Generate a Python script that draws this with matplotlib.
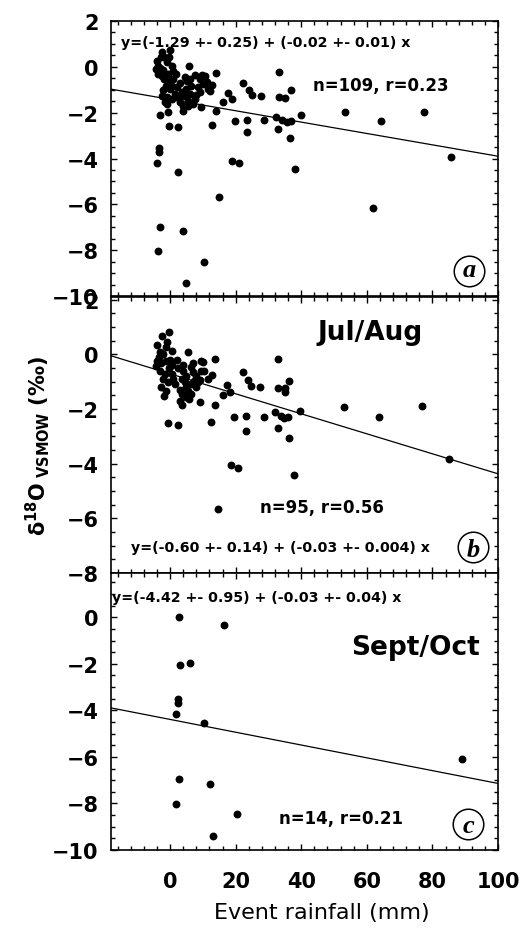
import numpy as np
import matplotlib
matplotlib.use("Agg")
import matplotlib.pyplot as plt
from matplotlib.ticker import MultipleLocator

plt.rcParams['font.family'] = ['DejaVu Sans']
plt.rcParams['mathtext.fontset'] = 'dejavusans'

# ---------------- data ----------------
# panel a: all events
a_x = [5.8, 14.0, 33.2, 4.6, 9.7, 22.2, 24.0, 25.0, 27.6, 36.8, 35.2, 33.2,
       17.6, 16.3, 18.9, 14.0, 9.5, 4.1, -0.5, -3.1, -0.2, 2.5, 12.7, 19.9,
       23.5, 28.8, 32.2, 34.2, 35.7, 36.8, 40.0, 23.5, 33.0, 36.6, -3.4, -3.4,
       -3.9, 18.9, 20.9, 38.1, 2.5, 15.0, 53.4, 64.3, 77.3, 85.6, 61.8, -3.2,
       4.1, -3.8, 10.3, 4.8,
       -0.0, -2.4, -1.8, -4.0, -3.6, -1.0, 0.5, 1.0, -3.8, -2.6, -0.5, -1.8,
       0.0, 1.0, 0.7, 0.0, 2.0, -2.6, -1.0, -1.5, 0.5, 1.5, -1.0, -3.0, -2.0,
       -1.2, -2.2, -0.3,
       5.1, 6.1, 7.6, 9.2, 10.7, 5.0, 6.5, 8.5, 10.0, 4.5, 6.0, 7.5, 5.5, 3.0,
       4.0, 5.5, 7.0, 12.7, 11.7, 11.2, 9.0, 3.5,
       -4.2, 1.8, 2.8, 8.0, -2.8, 3.0, 12.2]
a_y = [0.02, -0.27, -0.24, -0.46, -0.36, -0.71, -1.0, -1.22, -1.26, -1.0, -1.37, -1.30,
       -1.16, -1.52, -1.40, -1.91, -1.77, -1.91, -1.98, -2.10, -2.57, -2.64, -2.52, -2.35,
       -2.32, -2.32, -2.18, -2.32, -2.39, -2.35, -2.10, -2.86, -2.71, -3.12, -3.55, -3.73,
       -4.21, -4.10, -4.21, -4.46, -4.60, -5.67, -1.98, -2.36, -1.96, -3.92, -6.16, -6.97,
       -7.18, -8.05, -8.50, -9.45,
       0.75, 0.63, 0.41, 0.27, 0.05, 0.20, 0.05, -0.17, -0.31, -0.39, -0.31, -0.55,
       -0.60, -0.53, -0.82, -0.97, -0.89, -1.26, -1.33, -1.55, -1.40, -1.19, -1.62, -0.05, -0.15,
       -0.85, -1.00, 0.45,
       -0.60, -0.53, -0.36, -0.53, -0.41, -0.97, -0.82, -0.89, -0.75, -1.26, -1.19, -1.40, -1.48, -1.55,
       -1.69, -1.69, -1.62, -0.80, -0.97, -0.68, -1.10, -1.10,
       -0.10, -0.30, -1.35, -1.25, 0.45, -0.70, -1.05]

# panel b: Jul/Aug
b_x = [5.6, 13.8, 32.9, 4.1, 6.4, 9.4, 10.1, 9.4, 6.9, 7.9, 11.5, 12.7,
       22.2, 23.7, 24.7, 27.4, 36.4, 32.9, 35.1, 35.1, 17.4, 16.0, 18.4,
       3.8, 9.2, 13.8, -0.5, 2.5, 12.5, 19.6, 23.2, 23.2, 28.6, 32.1, 32.9,
       33.9, 34.9, 35.9, 36.2, 39.7, 53.0, 63.7, 76.8, 85.1, 18.6, 20.7, 37.7, 14.7,
       -0.3, -2.3, -4.1, -1.3, 0.75, -4.3, -2.8, -1.3, -0.3, 0.75, -3.5, -2.0, -1.0,
       -3.0, -1.5, 0.5, 1.0, 1.5, -2.8, -1.8, -1.3, -0.5, -2.2, 0.0, -4.0, -3.2,
       3.8, 4.8, 5.8, 6.4, 4.8, 6.4, 7.4, 3.5, 5.0, 4.0, 8.5, 3.0, 5.5, 2.5, 10.5,
       7.0, 3.0, 8.0, 2.0, 9.0, 4.5]
b_y = [0.07, -0.18, -0.17, -0.38, -0.47, -0.23, -0.29, -0.60, -0.66, -0.78, -0.90, -0.75,
       -0.63, -0.94, -1.14, -1.20, -0.96, -1.23, -1.23, -1.39, -1.11, -1.47, -1.39,
       -1.85, -1.73, -1.87, -2.52, -2.58, -2.48, -2.30, -2.26, -2.80, -2.29, -2.12, -2.68,
       -2.24, -2.34, -2.30, -3.07, -2.06, -1.93, -2.30, -1.90, -3.84, -4.03, -4.16, -4.43, -5.66,
       0.83, 0.68, 0.35, 0.26, 0.11, -0.41, -0.30, -0.25, -0.50, -0.40, -0.10, 0.00, 0.45,
       -0.60, -0.70, -0.72, -0.90, -1.08, -1.20, -1.51, -1.33, -1.00, -0.90, -0.20, -0.25, 0.10,
       -1.45, -1.57, -1.63, -1.45, -1.20, -1.08, -0.96, -0.90, -0.80, -0.60, -1.00, -1.30, -1.35, -0.50, -0.60,
       -0.30, -1.70, -1.20, -0.20, -0.95, -1.00]

# panel c: Sept/Oct
c_x = [2.8, 16.4, 2.9, 6.0, 2.5, 2.5, 1.7, 10.4, 89.0, 2.6, 12.2, 1.8, 20.4, 13.1]
c_y = [-0.00, -0.33, -2.07, -1.95, -3.52, -3.70, -4.17, -4.56, -6.11, -6.94, -7.15, -8.03, -8.46, -9.41]

# regression lines (intercept, slope) as drawn
fit_intercept = [-1.42, -0.71, -4.39]
fit_slope = [-0.0248, -0.0366, -0.0275]

eq_texts = ["y=(-1.29 +- 0.25) + (-0.02 +- 0.01) x",
            "y=(-0.60 +- 0.14) + (-0.03 +- 0.004) x",
            "y=(-4.42 +- 0.95) + (-0.03 +- 0.04) x"]
stat_texts = ["n=109, r=0.23", "n=95, r=0.56", "n=14, r=0.21"]
season_texts = [None, "Jul/Aug", "Sept/Oct"]
panel_letters = ["a", "b", "c"]

xlims = (-18, 100)
ylims = [(-10, 2), (-8, 2.1), (-10, 1.9)]
xticks = [0, 20, 40, 60, 80, 100]

# ---------------- layout ----------------
W, H = 520, 929
fig = plt.figure(figsize=(W / 100, H / 100), dpi=100)
fig.patch.set_facecolor('white')

def fx(px):
    return px / W

def fy(py):
    return 1 - py / H

L, R = 111, 498
rows = [(22, 297), (298, 574), (574, 851)]
axes = []
for (t, b) in rows:
    ax = fig.add_axes([fx(L), fy(b), (R - L) / W, (b - t) / H])
    axes.append(ax)

xs_data = [a_x, b_x, c_x]
ys_data = [a_y, b_y, c_y]

for i, ax in enumerate(axes):
    ax.scatter(xs_data[i], ys_data[i], s=32, c='black', linewidths=0, zorder=3)
    ax.set_xlim(*xlims)
    ax.set_ylim(*ylims[i])
    xl = np.array(xlims, dtype=float)
    ax.plot(xl, fit_intercept[i] + fit_slope[i] * xl, color='black', lw=0.9, zorder=2)
    ax.xaxis.set_major_locator(MultipleLocator(20))
    ax.xaxis.set_minor_locator(MultipleLocator(4))
    ax.yaxis.set_major_locator(MultipleLocator(2))
    ax.yaxis.set_minor_locator(MultipleLocator(0.5))
    ax.tick_params(which='both', direction='in', top=True, right=True,
                   width=1.0, colors='black')
    ax.tick_params(which='major', length=4.5)
    ax.tick_params(which='minor', length=3)
    ax.tick_params(axis='y', which='major', labelsize=15, pad=9)
    ax.tick_params(axis='x', which='major', labelsize=15, pad=15)
    for lab in ax.get_yticklabels():
        lab.set_fontweight('bold')
    for sp in ax.spines.values():
        sp.set_linewidth(1.2)
    if i < 2:
        ax.tick_params(axis='x', labelbottom=False)
    else:
        ax.set_xticks(xticks)
        for lab in ax.get_xticklabels():
            lab.set_fontweight('bold')

# texts placed at pixel positions (left x, baseline y)
eq_pos = [(121, 46.7), (131, 551.7), (112, 601.7)]
stat_pos = [(313, 90.7), (260, 512.7), (279, 824.3)]
season_pos = [None, (317, 340), (351, 655)]
for i in range(3):
    fig.text(fx(eq_pos[i][0]), fy(eq_pos[i][1]), eq_texts[i], fontsize=10.2,
             fontweight='bold', ha='left', va='baseline')
    fig.text(fx(stat_pos[i][0]), fy(stat_pos[i][1]), stat_texts[i], fontsize=12,
             fontweight='bold', ha='left', va='baseline')
    if season_texts[i]:
        fig.text(fx(season_pos[i][0]), fy(season_pos[i][1]), season_texts[i],
                 fontsize=19, fontweight='bold', ha='left', va='baseline')

# circled panel letters
circ_pos = [(469, 272), (473, 548), (468, 825)]
letter_base = [276.7, 556.7, 833.3]
for i in range(3):
    cx, cy = circ_pos[i]
    fig.lines.append(plt.Line2D([fx(cx)], [fy(cy)], marker='o', markersize=22,
                                markerfacecolor='none', markeredgecolor='black',
                                markeredgewidth=1.1, transform=fig.transFigure))
    fig.text(fx(cx), fy(letter_base[i]), panel_letters[i], fontsize=19,
             family='Liberation Serif', fontweight='bold', fontstyle='italic',
             ha='center', va='baseline')

# axis labels
fig.text(fx(38), fy(446), r'$\mathbf{\delta^{18}O_{\ VSMOW}}$ (‰)', rotation=90,
         ha='center', va='center', fontsize=15, fontweight='bold')
fig.text(fx(322), fy(913), 'Event rainfall (mm)', ha='center', va='center',
         fontsize=16)

fig.savefig('out.png', dpi=100, facecolor='white')
